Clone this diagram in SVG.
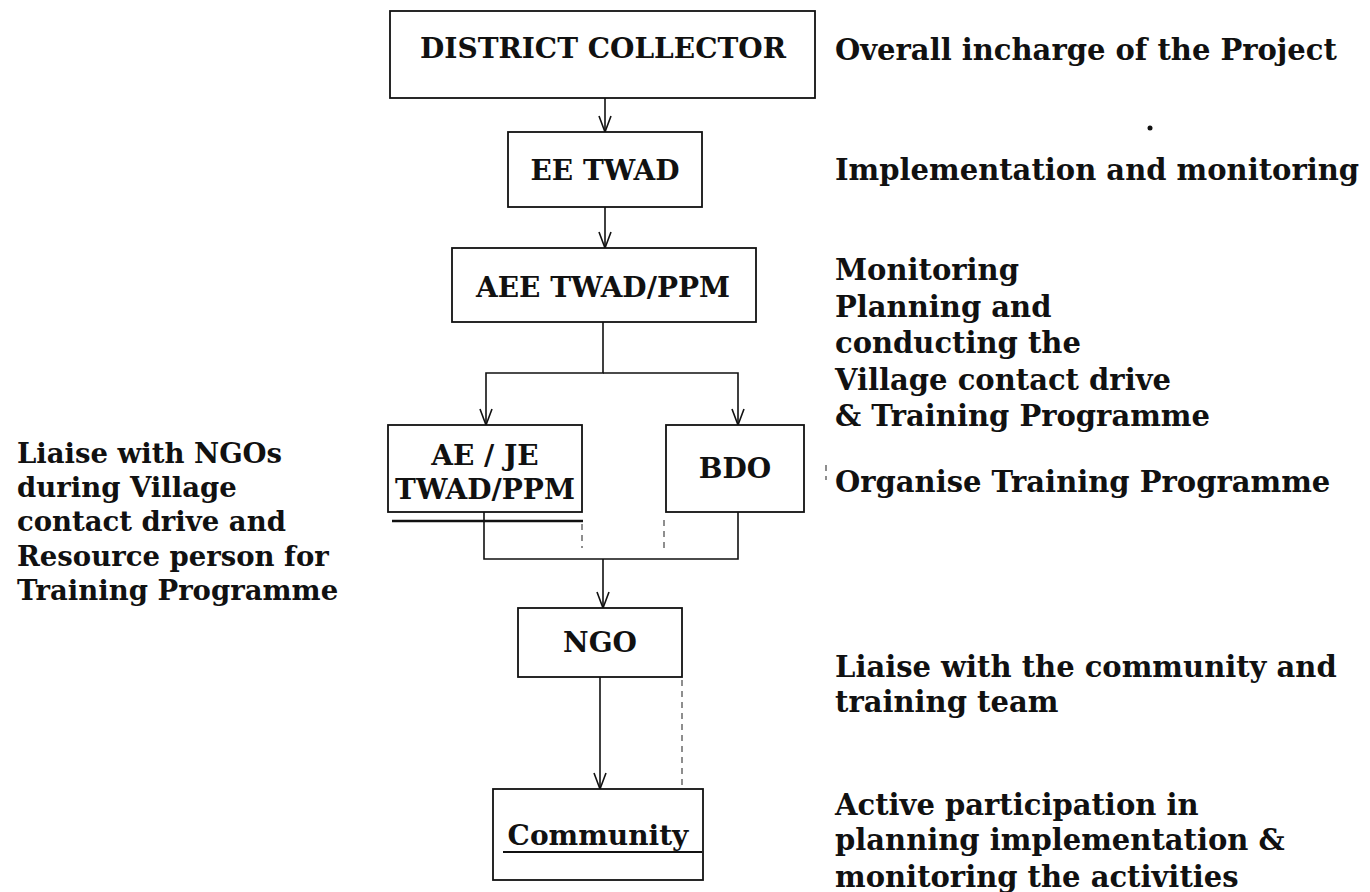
<svg xmlns="http://www.w3.org/2000/svg" width="1370" height="892" viewBox="0 0 1370 892">
<style>
.box{fill:#fff;stroke:#111;stroke-width:1.8}
.lbl{font-family:"DejaVu Serif","Liberation Serif",serif;font-weight:bold;font-size:28px;fill:#111;text-anchor:middle}
.side{font-family:"DejaVu Serif","Liberation Serif",serif;font-weight:bold;font-size:29px;fill:#111}
.left{font-family:"DejaVu Serif","Liberation Serif",serif;font-weight:bold;font-size:27.5px;fill:#111}
.con{fill:none;stroke:#111;stroke-width:1.6}
.noise{fill:none;stroke:#444;stroke-width:1.2;stroke-dasharray:6 5}
</style>
<defs>
<marker id="v" markerWidth="18" markerHeight="14" refX="17" refY="7" orient="auto" markerUnits="userSpaceOnUse" viewBox="0 0 18 14">
<path d="M1,1 L17,7 L1,13" fill="none" stroke="#111" stroke-width="1.6"/>
</marker>
</defs>
<rect width="1370" height="892" fill="#fff"/>
<g id="connectors">
<line class="con" x1="605" y1="98" x2="605" y2="132" marker-end="url(#v)"/>
<line class="con" x1="605" y1="207" x2="605" y2="248" marker-end="url(#v)"/>
<polyline class="con" points="603,322 603,373 486,373 486,425" marker-end="url(#v)"/>
<polyline class="con" points="603,373 738,373 738,425" marker-end="url(#v)"/>
<polyline class="con" points="484,512 484,559 738,559 738,512"/>
<line class="con" x1="603" y1="559" x2="603" y2="608" marker-end="url(#v)"/>
<line class="con" x1="600" y1="677" x2="600" y2="789" marker-end="url(#v)"/>
<line class="noise" x1="600" y1="792" x2="600" y2="823"/>
<line class="noise" x1="682" y1="680" x2="682" y2="787"/>
<line class="noise" x1="582" y1="524" x2="582" y2="548"/>
<line class="noise" x1="664" y1="520" x2="664" y2="550"/>
<line class="noise" x1="826" y1="465" x2="826" y2="480"/>
</g>
<g id="district-collector">
<rect class="box" x="390" y="11" width="425" height="87"/>
<text class="lbl" x="603" y="58">DISTRICT COLLECTOR</text>
</g>
<g id="ee-twad">
<rect class="box" x="508" y="132" width="194" height="75"/>
<text class="lbl" x="605" y="180">EE TWAD</text>
</g>
<g id="aee-twad">
<rect class="box" x="452" y="248" width="304" height="74"/>
<text class="lbl" x="603" y="297">AEE TWAD/PPM</text>
</g>
<g id="ae-je">
<rect class="box" x="388" y="425" width="194" height="87"/>
<text class="lbl" x="485" y="465">AE / JE</text>
<text class="lbl" x="485" y="499">TWAD/PPM</text>
<line x1="392" y1="521" x2="583" y2="521" stroke="#111" stroke-width="2.4"/>
</g>
<g id="bdo">
<rect class="box" x="666" y="425" width="138" height="87"/>
<text class="lbl" x="735" y="478">BDO</text>
</g>
<g id="ngo">
<rect class="box" x="518" y="608" width="164" height="69"/>
<text class="lbl" x="600" y="652">NGO</text>
</g>
<g id="community">
<rect class="box" x="493" y="789" width="210" height="91"/>
<text class="lbl" x="598" y="845">Community</text>
<line x1="503" y1="852" x2="702" y2="852" stroke="#111" stroke-width="1.8"/>
</g>
<g id="right-notes">
<text class="side" x="835" y="60">Overall incharge of the Project</text>
<circle cx="1150" cy="128" r="2.5" fill="#111"/>
<text class="side" x="835" y="180">Implementation and monitoring</text>
<text class="side" x="835" y="280">Monitoring</text>
<text class="side" x="835" y="317">Planning and</text>
<text class="side" x="835" y="353">conducting the</text>
<text class="side" x="835" y="390">Village contact drive</text>
<text class="side" x="835" y="426">&amp; Training Programme</text>
<text class="side" x="835" y="492">Organise Training Programme</text>
<text class="side" x="835" y="677">Liaise with the community and</text>
<text class="side" x="835" y="712">training team</text>
<text class="side" x="835" y="815">Active participation in</text>
<text class="side" x="835" y="850">planning implementation &amp;</text>
<text class="side" x="835" y="887">monitoring the activities</text>
</g>
<g id="left-note">
<text class="left" x="17" y="463">Liaise with NGOs</text>
<text class="left" x="17" y="497">during Village</text>
<text class="left" x="17" y="531">contact drive and</text>
<text class="left" x="17" y="566">Resource person for</text>
<text class="left" x="17" y="600">Training Programme</text>
</g>
</svg>
